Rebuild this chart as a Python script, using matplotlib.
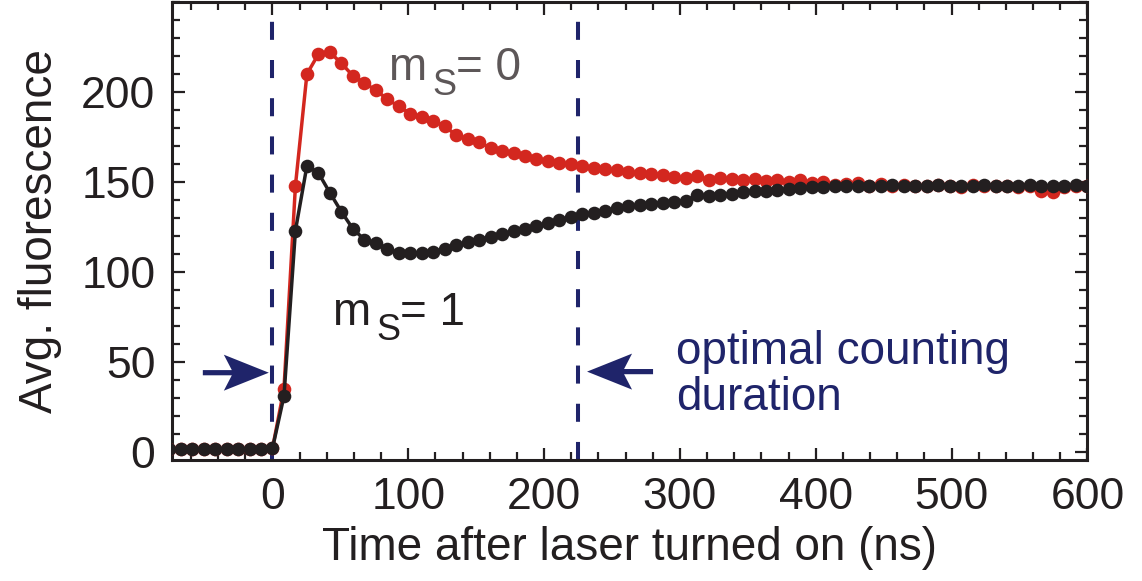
import numpy as np
import matplotlib
matplotlib.use("Agg")
import matplotlib.pyplot as plt
from matplotlib.patches import Polygon
from matplotlib.transforms import Affine2D, ScaledTranslation

plt.rcParams['font.family'] = ['Liberation Sans', 'DejaVu Sans']
plt.rcParams['lines.scale_dashes'] = False

# ---------------- data ----------------
step_ns = 8.45
k_index = np.arange(-9, 72)
time_ns = k_index * step_ns

baseline = [1.5] * 9

ms0_after = [2, 35, 148, 210, 221, 222, 216, 209, 205, 201,
             196, 192, 188, 186, 184, 181, 176, 174, 172, 169,
             167, 166, 164.5, 163, 161.5, 160.5, 160, 159, 158, 157,
             156.5, 155.5, 155, 154.5, 154, 152.5, 152, 153.5, 151, 152,
             151.5, 151, 151.5, 150.5, 151, 150, 151, 149.5, 150, 148.5,
             149, 149.5, 148, 149, 148, 148.5, 148, 147.5, 148.5, 148,
             147, 148.5, 148, 147.5, 148, 147, 147.5, 145, 144.5, 147,
             147.5, 148]

ms1_after = [2, 31, 123, 159, 155, 144, 133.5, 124, 118, 116,
             113, 110.5, 110.5, 110.5, 111, 113, 115, 116.5, 118, 119.5,
             121, 122.5, 124, 125.5, 127, 129, 130.5, 132, 133, 134,
             135.5, 136.5, 137, 138, 138.5, 139, 139.5, 142.5, 142, 143,
             143.5, 144.5, 145, 145, 145.5, 146, 146.5, 147, 147, 147.5,
             148, 147.5, 148, 147.5, 148.5, 148, 147.5, 148, 148.5, 148,
             147.5, 148, 148.5, 148, 147.5, 148, 148.5, 147.5, 148, 147.5,
             148.5, 148]

fluor_ms0 = baseline + ms0_after
fluor_ms1 = baseline + ms1_after

laser_on_ns = 0
count_end_ns = 225

x_ticks = [0, 100, 200, 300, 400, 500, 600]
y_ticks = [0, 50, 100, 150, 200]

# ---------------- style ----------------
RED = '#d3271f'
BLACK = '#231f20'
NAVY = '#1f246a'
GRAY = '#5d5758'
PX = 72.0 / 100.0  # pixels -> points

fig = plt.figure(figsize=(11.42, 5.81), dpi=100)
ax = fig.add_axes([0.1506, 0.2083, 0.8016, 0.7883])

ax.plot(time_ns, fluor_ms0, color=RED, lw=2.5, marker='o', ms=9.8,
        markeredgewidth=0, zorder=3)
ax.plot(time_ns, fluor_ms1, color=BLACK, lw=2.5, marker='o', ms=9.8,
        markeredgewidth=0, zorder=4)

for xv in (laser_on_ns, count_end_ns):
    ax.axvline(xv, color=NAVY, lw=2.9, dashes=(13, 14.5), zorder=2)

ax.set_xlim(-74, 600)
ax.set_ylim(-4.5, 250)
ax.set_xticks(x_ticks)
ax.set_yticks(y_ticks)
ax.set_xticks(np.arange(-60, 601, 20), minor=True)
ax.set_yticks(np.arange(0, 251, 10), minor=True)
ax.tick_params(which='both', direction='in', top=True, right=True,
               width=1.6, colors=BLACK, labelsize=32)
ax.tick_params(which='major', length=9, pad=12)
ax.tick_params(which='minor', length=6)
for s in ax.spines.values():
    s.set_linewidth(2.2)
    s.set_color(BLACK)

ax.set_xlabel('Time after laser turned on (ns)', fontsize=33, color=BLACK,
              labelpad=6)
ax.set_ylabel('Avg. fluorescence', fontsize=33, color=BLACK, labelpad=14)


def ms_label(x, y, value, color):
    ax.text(x, y, 'm', fontsize=33, color=color, ha='left', va='baseline')
    ax.annotate('S', xy=(x, y), xytext=(44 * PX, -15 * PX),
                textcoords='offset points', fontsize=26, color=color,
                ha='left', va='baseline')
    ax.annotate('= ' + value, xy=(x, y), xytext=(68 * PX, 0),
                textcoords='offset points', fontsize=33, color=color,
                ha='left', va='baseline')


ms_label(85, 206.5, '0', GRAY)
ms_label(44, 70.5, '1', BLACK)

ax.text(297, 23.3, 'optimal counting\nduration', fontsize=33, color=NAVY,
        ha='left', va='baseline', linespacing=1.06)

# stealth-style arrows (geometry in pixels, tip in data coords)
head = np.array([[0, 0], [-45, 18], [-37, 2.6], [-66, 2.6],
                 [-66, -2.6], [-37, -2.6], [-45, -18]], dtype=float)


def arrow(tip_x, tip_y, direction):
    verts = head.copy()
    verts[:, 0] *= direction
    tr = Affine2D() + ScaledTranslation(tip_x, tip_y, ax.transData)
    ax.add_patch(Polygon(verts, closed=True, facecolor=NAVY,
                         edgecolor='none', transform=tr, zorder=5,
                         clip_on=False))


arrow(-2.7, 44, +1)
arrow(231.6, 44.6, -1)

fig.savefig('out.png', dpi=100)
